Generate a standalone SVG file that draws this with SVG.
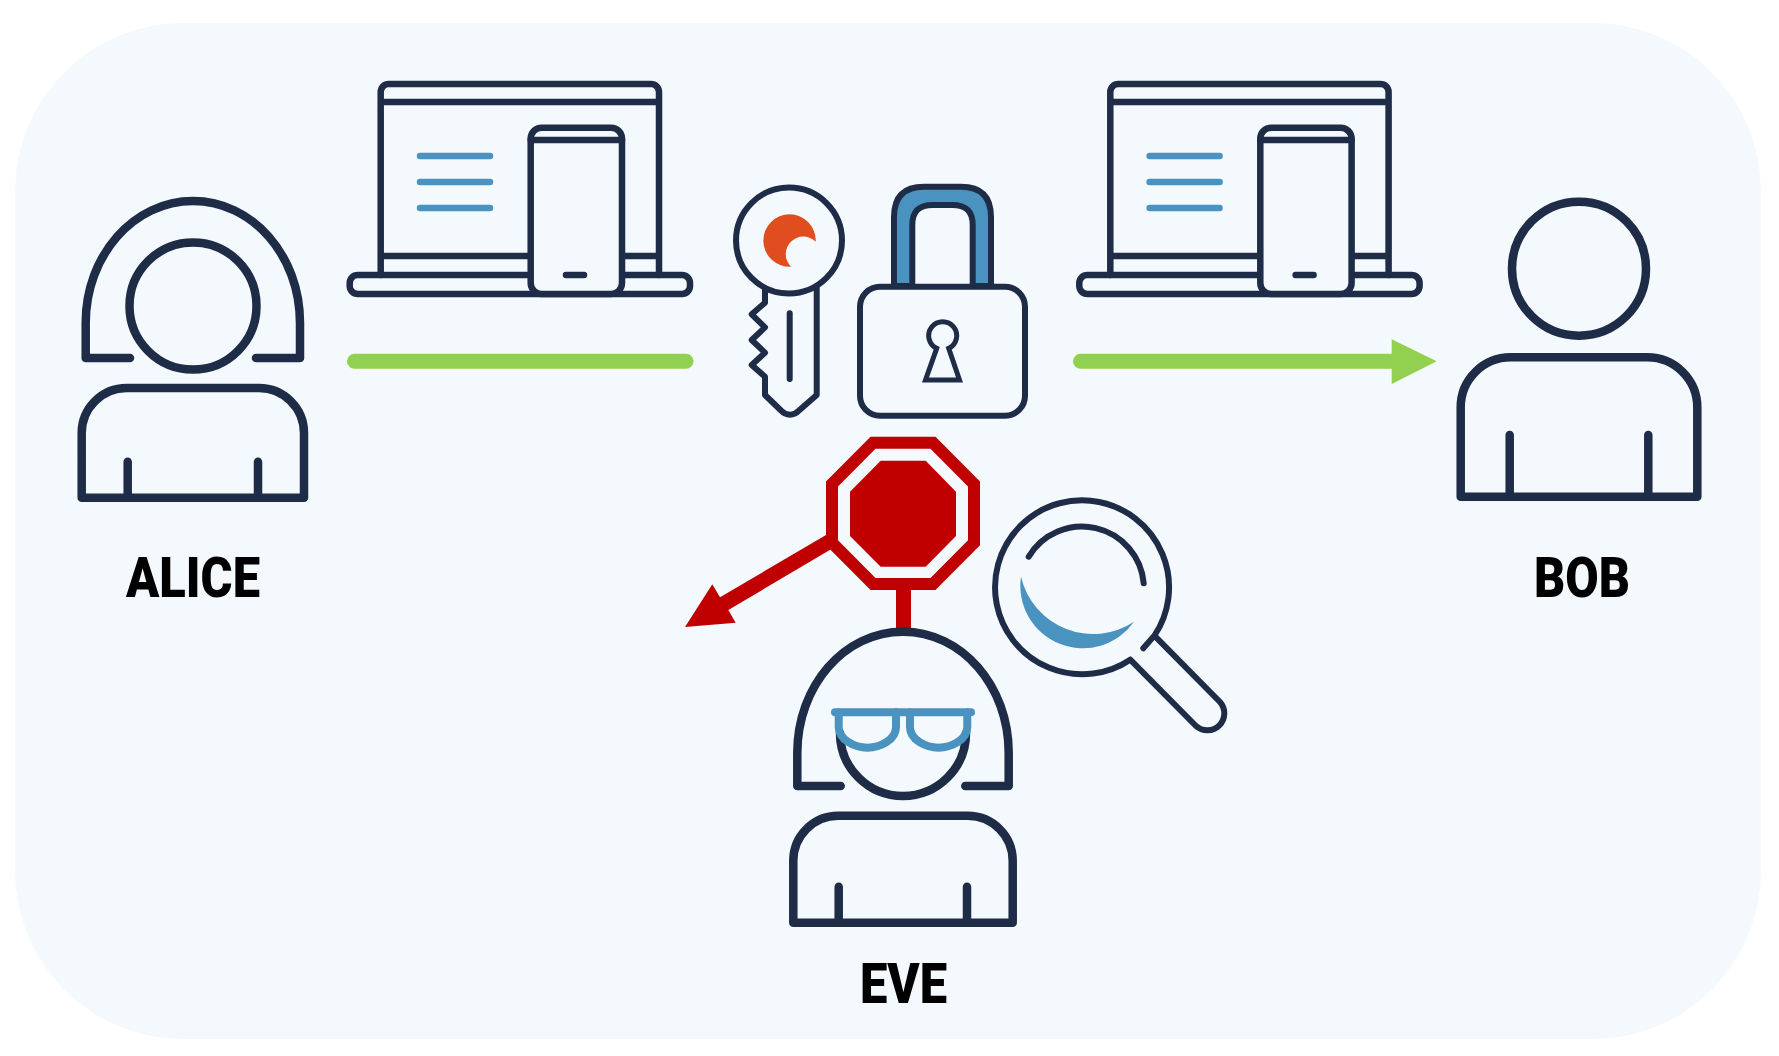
<svg xmlns="http://www.w3.org/2000/svg" width="1779" height="1056" viewBox="0 0 1779 1056">
<style>
.l{fill:none;stroke:#1f2c47;stroke-linecap:round;stroke-linejoin:round}
.p{stroke-width:8.500}
.d{stroke-width:6.500}
.k{stroke-width:6}
.b{fill:none;stroke:#4a92bf;stroke-linecap:round}
.t{font-family:"Roboto","Liberation Sans",sans-serif;font-weight:900;font-size:55px;fill:#000}
</style>
<defs>
<g id="device">
<path class="l d" d="M380.700 275V92a8 8 0 0 1 8-8H651a8 8 0 0 1 8 8V275M380.700 102H659M380.700 256H531M622 256H659"/>
<rect class="l d" x="349.700" y="275" width="340.300" height="19" rx="8"/>
<rect class="l d" x="530.700" y="127.700" width="91.300" height="166.300" rx="11" style="fill:#f3f9fc"/>
<path class="l d" d="M530.700 140H622M566 275H584"/>
<path class="b" stroke-width="6.500" d="M420 156H490M420 182H490M420 208H490"/>
</g>
</defs>
<rect width="1779" height="1056" fill="#fff"/>
<rect x="15" y="23" width="1746" height="1016" rx="168" fill="#f3f9fc"/>
<g id="connectors">
<path d="M354.500 361.300H686" fill="none" stroke="#92d14f" stroke-width="15" stroke-linecap="round"/>
<path d="M1080.500 361.300H1392" fill="none" stroke="#92d14f" stroke-width="15" stroke-linecap="round"/>
<polygon points="1391.700,339.300 1436.700,361.300 1391.700,384" fill="#92d14f"/>
<path d="M903.500 590V630" fill="none" stroke="#c00000" stroke-width="15"/>
<polygon points="826,535 831,549.300 728.300,610 735.700,622.700 685,627 712.300,584.300 720,597.300" fill="#c00000"/>
</g>
<g id="alice">
<path class="l p" d="M130 358H85.700V323C85.700 255 134 201 193 201S300 255 300 323V358H256"/>
<circle class="l p" cx="193" cy="306" r="63.500"/>
<path class="l p" d="M81.700 497.700V433A45 45 0 0 1 126.700 388H259A45 45 0 0 1 304 433V497.700ZM127.700 461.700V497M258 461.700V497"/>
<text class="t" x="193" y="597" text-anchor="middle" textLength="134" lengthAdjust="spacingAndGlyphs">ALICE</text>
</g>
<g id="laptop-left"><use href="#device"/></g>
<g id="laptop-right"><use href="#device" x="729.600"/></g>
<g id="key">
<path class="l k" d="M816.700 288.300V395L799 410.500C794 416 786 416 781 410.500L765 395V376.700L751.700 365L765 352.700L751.700 340L765 327.300L751.700 314.300L765 302.700V290"/>
<circle class="l k" cx="789" cy="240.500" r="53"/>
<path class="l k" d="M789.700 313.300V379"/>
<path d="M815.700 241.700A26.200 26.200 0 1 0 791 266.700A17.500 17.500 0 1 1 815.700 241.700Z" fill="#e04e1f"/>
</g>
<g id="lock">
<path class="l k" style="fill:#4a92bf" d="M894 286V217C894 197 904 186.700 924 186.700H961C981 186.700 991 197 991 217V286H972.700V225C972.700 211 966 205 952 205H933C919 205 912.300 211 912.300 225V286Z"/>
<rect class="l k" x="860" y="286.700" width="165" height="129" rx="20"/>
<path class="l" style="stroke-linejoin:miter;stroke-width:5" d="M936.700 348.300L925.500 380H959.500L948.700 348.300A14 14 0 1 0 936.700 348.300Z"/>
</g>
<g id="stop">
<polygon points="873,442.700 933,442.700 974,484 974,542.700 933,584 873,584 832,542.700 832,484" fill="none" stroke="#c00000" stroke-width="12"/>
<polygon points="880.700,460.700 925.700,460.700 956,491.700 956,536 925.700,566.700 880.700,566.700 850,536 850,491.700" fill="#c00000"/>
</g>
<g id="magnifier">
<path class="l k" d="M1130.260 659.700A87 87 0 1 1 1154.400 635.600L1143.300 648.300M1130.260 659.700L1196 726A17 17 0 0 0 1220 702L1154.400 635.600M1028.700 556.700A62 62 0 0 1 1143.700 583.300"/>
<path d="M1021 576.700A62.500 62.500 0 0 0 1134 621.700A74 74 0 0 1 1021 576.700Z" fill="#4a92bf"/>
</g>
<g id="eve">
<path class="l p" d="M840.700 786H797.300V753C797.300 686 844 631.700 903 631.700S1008.700 686 1008.700 753V786H965.300"/>
<path class="l p" d="M840 733A63 63 0 0 0 966 733"/>
<path class="l p" d="M793.300 922.700V860.700A45 45 0 0 1 838.300 815.700H967.700A45 45 0 0 1 1012.700 860.700V922.700ZM838.700 886.700V922M967 886.700V922"/>
<path class="b" stroke-width="8" d="M835 712.300H971M838.700 712V727C838.700 740 855 747.700 867.500 747.700S896 740 896 727V712M910 712V727C910 740 926 747.700 938.500 747.700S967.300 740 967.300 727V712"/>
<text class="t" x="903.500" y="1003" text-anchor="middle" textLength="87" lengthAdjust="spacingAndGlyphs">EVE</text>
</g>
<g id="bob">
<circle class="l p" cx="1579" cy="268.700" r="67"/>
<path class="l p" d="M1460.700 496.700V407.300A50 50 0 0 1 1510.700 357.300H1647.300A50 50 0 0 1 1697.300 407.300V496.700ZM1509.700 435V496M1648.300 435V496"/>
<text class="t" x="1582" y="597" text-anchor="middle" textLength="96" lengthAdjust="spacingAndGlyphs">BOB</text>
</g>
</svg>
